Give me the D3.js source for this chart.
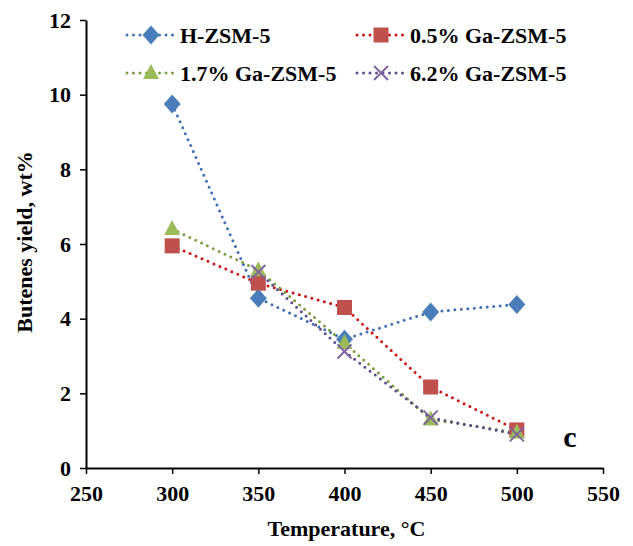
<!DOCTYPE html>
<html>
<head>
<meta charset="utf-8">
<script src="https://cdn.jsdelivr.net/npm/d3@7"></script>
<style>
  body { margin: 0; background: #fff; }
  text { font-family: "Liberation Serif", "Times New Roman", serif; font-weight: bold; }
</style>
</head>
<body>
<div id="chart"></div>
<script>
// data
var temps = [300, 350, 400, 450, 500];
var seriesNames = ["H-ZSM-5", "0.5% Ga-ZSM-5", "1.7% Ga-ZSM-5", "6.2% Ga-ZSM-5"];
var hzsm = [9.75, 4.55, 3.45, 4.18, 4.38];
var ga05 = [5.95, 4.95, 4.3, 2.17, 1.02];
var ga17 = [6.4, 5.3, 3.35, 1.3, 0.95];
var ga62 = [null, 5.25, 3.12, 1.35, 0.9];
var xTicks = [250, 300, 350, 400, 450, 500, 550];
var yTicks = [0, 2, 4, 6, 8, 10, 12];

var margin = { top: 20, right: 30, bottom: 78, left: 86 },
    width = 633 - margin.left - margin.right,
    height = 546 - margin.top - margin.bottom;

var svg = d3.select("#chart")
    .append("svg")
    .attr("width", 633)
    .attr("height", 546)
    .append("g")
    .attr("transform", "translate(" + margin.left + "," + margin.top + ")");

var x = d3.scaleLinear().domain([250, 550]).range([0, width]);
var y = d3.scaleLinear().domain([0, 12]).range([height, 0]);

// axes
var xAxis = svg.append("g")
    .attr("transform", "translate(0," + height + ")")
    .call(d3.axisBottom(x).tickValues(xTicks).tickSize(6).tickSizeOuter(0).tickPadding(11));
var yAxis = svg.append("g")
    .call(d3.axisLeft(y).tickValues(yTicks).tickSize(6).tickSizeOuter(0).tickPadding(9));
[xAxis, yAxis].forEach(function (a) {
    a.select(".domain").attr("stroke", "#000").attr("stroke-width", 2);
    a.selectAll(".tick line").attr("stroke", "#000").attr("stroke-width", 1.5);
    a.selectAll(".tick text")
        .style("font-size", "22px")
        .style("font-family", "Liberation Serif")
        .style("font-weight", "bold")
        .attr("fill", "#000");
});

svg.append("text")
    .attr("x", width / 2 + 2)
    .attr("y", height + 68)
    .style("text-anchor", "middle")
    .style("font-size", "22px")
    .text("Temperature, °C");

svg.append("text")
    .attr("transform", "rotate(-90)")
    .attr("x", -height / 2 + 2)
    .attr("y", -54)
    .style("text-anchor", "middle")
    .style("font-size", "22px")
    .text("Butenes yield, wt%");

svg.append("text")
    .attr("x", x(527))
    .attr("y", y(0.56))
    .style("font-size", "30px")
    .text("c");

var lineColors = ["#3f6fb5", "#cc1111", "#77a03c", "#5c4d8c"];
var markColors = ["#4a7ebb", "#c0504d", "#9bbb59", "#8064a2"];
var shapes = ["diamond", "square", "triangle", "cross"];
var allSeries = [hzsm, ga05, ga17, ga62];

function drawMarker(g, shape, i, cx, cy) {
    if (shape === "diamond") {
        g.append("path").attr("d", "M0,-9.5L8.5,0L0,9.5L-8.5,0Z")
            .attr("transform", "translate(" + cx + "," + cy + ")")
            .attr("fill", markColors[i]);
    } else if (shape === "square") {
        g.append("rect").attr("x", cx - 7.5).attr("y", cy - 7.5)
            .attr("width", 15).attr("height", 15).attr("fill", markColors[i]);
    } else if (shape === "triangle") {
        g.append("path").attr("d", "M0,-9L8,6L-8,6Z")
            .attr("transform", "translate(" + cx + "," + cy + ")")
            .attr("fill", markColors[i]);
    } else {
        g.append("path").attr("d", "M-7,-7L7,7M-7,7L7,-7")
            .attr("transform", "translate(" + cx + "," + cy + ")")
            .attr("stroke", markColors[i]).attr("stroke-width", 2).attr("fill", "none");
    }
}

var line = d3.line()
    .defined(function (d) { return d[1] != null; })
    .x(function (d) { return x(d[0]); })
    .y(function (d) { return y(d[1]); });

allSeries.forEach(function (vals, i) {
    var pts = temps.map(function (t, j) { return [t, vals[j]]; });
    svg.append("path")
        .datum(pts)
        .attr("d", line)
        .attr("fill", "none")
        .attr("stroke", lineColors[i])
        .attr("stroke-width", 3)
        .attr("stroke-linecap", "round")
        .attr("stroke-dasharray", "0 6.5");
});
allSeries.forEach(function (vals, i) {
    var g = svg.append("g");
    temps.forEach(function (t, j) {
        if (vals[j] != null) drawMarker(g, shapes[i], i, x(t), y(vals[j]));
    });
});

// legend
var legPos = [[41, 15], [271, 15], [41, 53], [271, 53]];
seriesNames.forEach(function (name, i) {
    var g = svg.append("g").attr("transform", "translate(" + legPos[i][0] + "," + legPos[i][1] + ")");
    g.append("line")
        .attr("x1", 0).attr("x2", 46).attr("y1", 0).attr("y2", 0)
        .attr("stroke", lineColors[i])
        .attr("stroke-width", 3)
        .attr("stroke-linecap", "round")
        .attr("stroke-dasharray", "0 6.5");
    drawMarker(g, shapes[i], i, 24, 0);
    g.append("text")
        .attr("x", 53)
        .attr("y", 8)
        .style("font-size", "22px")
        .text(name);
});
</script>
</body>
</html>
